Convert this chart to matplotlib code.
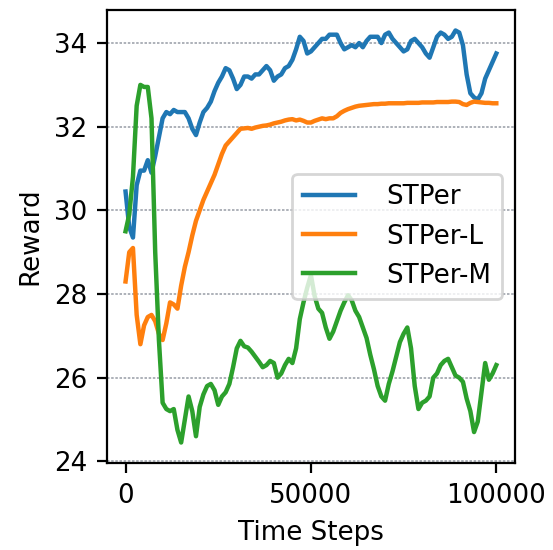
import numpy as np
import matplotlib
matplotlib.use("Agg")
import matplotlib.pyplot as plt

steps_k = np.arange(0, 101)  # thousands of time steps

stper = [30.45, 29.6, 29.35, 30.6, 30.95, 30.95, 31.2, 30.9, 31.3, 31.75,
         32.2, 32.35, 32.3, 32.4, 32.35, 32.35, 32.35, 32.2, 31.95, 31.8,
         32.1, 32.35, 32.45, 32.6, 32.85, 33.05, 33.2, 33.4, 33.35, 33.15,
         32.9, 33.0, 33.2, 33.2, 33.15, 33.25, 33.25, 33.35, 33.45, 33.35,
         33.1, 33.2, 33.25, 33.4, 33.45, 33.6, 33.85, 34.15, 34.05, 33.75,
         33.8, 33.9, 34.0, 34.1, 34.1, 34.2, 34.2, 34.2, 34.0, 33.85,
         33.9, 33.95, 33.9, 34.0, 33.9, 34.05, 34.15, 34.15, 34.15, 34.0,
         34.2, 34.25, 34.1, 34.0, 33.9, 33.8, 33.85, 34.05, 34.1, 34.0,
         33.9, 33.75, 33.65, 33.9, 34.15, 34.25, 34.2, 34.1, 34.15, 34.3,
         34.25, 33.95, 33.25, 32.8, 32.7, 32.65, 32.8, 33.15, 33.35, 33.55,
         33.75]

stper_l = [28.3, 29.0, 29.1, 27.5, 26.8, 27.25, 27.45, 27.5, 27.35, 27.05,
           26.9, 27.3, 27.8, 27.75, 27.65, 28.2, 28.65, 29.0, 29.4, 29.75,
           30.0, 30.25, 30.45, 30.65, 30.85, 31.1, 31.35, 31.55, 31.65, 31.75,
           31.85, 31.95, 31.96, 31.97, 31.95, 31.98, 32.0, 32.02, 32.03, 32.05,
           32.08, 32.1, 32.12, 32.15, 32.17, 32.18, 32.15, 32.17, 32.14, 32.1,
           32.1, 32.14, 32.17, 32.2, 32.18, 32.2, 32.2, 32.25, 32.33, 32.38,
           32.42, 32.45, 32.48, 32.5, 32.51, 32.52, 32.53, 32.54, 32.54, 32.55,
           32.55, 32.56, 32.56, 32.56, 32.56, 32.56, 32.57, 32.57, 32.57, 32.57,
           32.58, 32.58, 32.58, 32.58, 32.59, 32.59, 32.59, 32.59, 32.6, 32.6,
           32.59, 32.54, 32.52, 32.57, 32.6, 32.59, 32.58, 32.57, 32.57, 32.56,
           32.56]

stper_m = [29.5, 29.9, 30.8, 32.5, 33.0, 32.95, 32.95, 32.2, 29.0, 26.9,
           25.4, 25.25, 25.2, 25.25, 24.75, 24.45, 25.0, 25.55, 25.2, 24.6,
           25.3, 25.6, 25.8, 25.85, 25.7, 25.35, 25.55, 25.65, 25.85, 26.25,
           26.7, 26.88, 26.75, 26.72, 26.62, 26.5, 26.38, 26.25, 26.3, 26.4,
           26.35, 26.0, 26.1, 26.3, 26.45, 26.35, 26.7, 27.4, 27.8, 28.15,
           28.45, 27.95, 27.65, 27.55, 27.2, 26.93, 27.1, 27.35, 27.6, 27.8,
           27.97, 27.85, 27.6, 27.45, 27.2, 26.95, 26.55, 26.2, 25.8, 25.55,
           25.45, 25.85, 26.15, 26.5, 26.85, 27.05, 27.2, 26.7, 25.8, 25.25,
           25.4, 25.45, 25.55, 26.0, 26.1, 26.3, 26.4, 26.45, 26.25, 26.05,
           26.0, 25.9, 25.5, 25.2, 24.7, 24.95, 25.65, 26.35, 25.95, 26.1,
           26.3]

labels = ["STPer", "STPer-L", "STPer-M"]
yticks = [24, 26, 28, 30, 32, 34]
xticks = [0, 50000, 100000]

FS = 9.4
plt.rcParams['font.family'] = ['DejaVu Sans']
fig = plt.figure(figsize=(553 / 200, 550 / 200), dpi=200)
ax = fig.add_axes([0.1935, 0.158, 0.7375, 0.824])

x = steps_k * 1000
for series, lab in zip([stper, stper_l, stper_m], labels):
    ax.plot(x, series, label=lab, linewidth=1.6)

ax.set_yticks(yticks)
ax.set_xticks(xticks)
ax.tick_params(labelsize=FS)
ax.yaxis.grid(True, linestyle=(0, (1.5, 1)), linewidth=0.6, color='#a0a4ad')
ax.set_xlabel("Time Steps", fontsize=FS)
ax.set_ylabel("Reward", fontsize=FS)
ax.legend(loc='center right', fontsize=FS, handletextpad=1.2)

fig.savefig("out.png", dpi=200)
